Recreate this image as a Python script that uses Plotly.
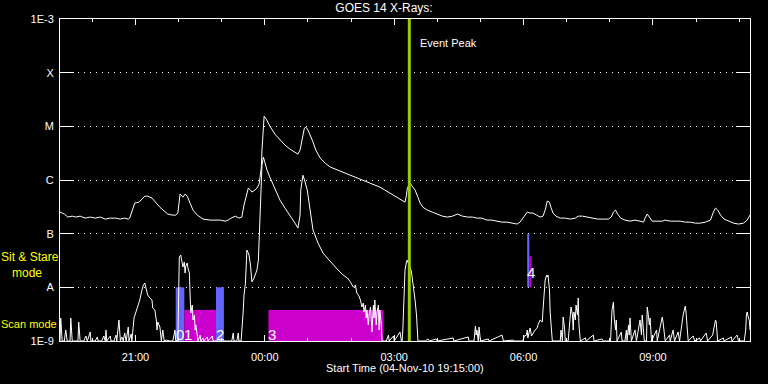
import pandas as pd
import plotly.graph_objects as go

# ---------------- data ----------------
start_time = "2010-11-04 19:15"
end_time = "2010-11-05 11:15"

# GOES 14 long channel (1-8 A), minutes after start / flux W m^-2
long_minutes = [
    0, 6, 11, 17, 22, 28, 35, 42, 49, 56,
    63, 70, 77, 84, 90, 95, 97, 102, 104, 110,
    114, 118, 122, 128, 134, 139, 145, 150, 156, 161,
    164, 166, 167, 170, 171, 174, 177, 181, 185, 191,
    199, 209, 216, 223, 230, 234, 238, 244, 249, 253,
    256, 259, 262, 265, 267, 271, 274, 277, 278, 280,
    281, 283, 284, 287, 292, 299, 306, 313, 320, 327,
    331, 334, 337, 340, 342, 345, 351, 356, 362, 369,
    376, 383, 390, 397, 404, 411, 418, 425, 432, 438,
    445, 452, 459, 466, 473, 480, 482, 483, 486, 487,
    490, 494, 498, 501, 505, 511, 518, 525, 532, 539,
    546, 553, 560, 567, 574, 580, 587, 594, 601, 608,
    615, 622, 629, 636, 640, 644, 647, 650, 654, 658,
    663, 668, 672, 675, 678, 681, 683, 686, 690, 696,
    703, 710, 717, 721, 727, 734, 741, 748, 756, 763,
    767, 770, 773, 775, 780, 786, 793, 800, 807, 812,
    814, 817, 820, 824, 832, 838, 842, 849, 856, 863,
    870, 877, 884, 891, 898, 905, 909, 912, 915, 919,
    924, 930, 937, 944, 951, 956, 959, 960,
]
long_flux = [
    2.52e-7, 2.32e-7, 2.04e-7, 2.12e-7, 2.04e-7, 2.12e-7, 1.95e-7, 2.04e-7, 1.95e-7, 2.04e-7,
    1.87e-7, 1.95e-7, 1.95e-7, 1.87e-7, 1.95e-7, 1.87e-7, 1.95e-7, 3.0e-7, 3.72e-7, 3.87e-7,
    4.41e-7, 5.0e-7, 5.0e-7, 4.6e-7, 3.72e-7, 3.1e-7, 2.64e-7, 2.32e-7, 2.22e-7, 2.22e-7,
    2.42e-7, 4.22e-7, 5.46e-7, 5.0e-7, 4.79e-7, 5.46e-7, 5.0e-7, 3.72e-7, 2.75e-7, 2.22e-7,
    1.87e-7, 1.79e-7, 1.79e-7, 1.79e-7, 1.71e-7, 1.79e-7, 1.95e-7, 2.12e-7, 1.95e-7, 2.04e-7,
    3.41e-7, 5.23e-7, 7.06e-7, 6.49e-7, 5.95e-7, 6.49e-7, 7.06e-7, 8.39e-7, 9.95e-7, 1.67e-6,
    3.6e-6, 1.42e-5, 1.55e-5, 1.36e-5, 1.01e-5, 7.16e-6, 5.53e-6, 4.47e-6, 3.76e-6, 3.31e-6,
    3.04e-6, 3.6e-6, 6.03e-6, 9.26e-6, 9.66e-6, 8.5e-6, 5.53e-6, 3.6e-6, 2.56e-6, 2.06e-6,
    1.74e-6, 1.6e-6, 1.46e-6, 1.34e-6, 1.23e-6, 1.13e-6, 1.04e-6, 9.54e-7, 8.76e-7, 8.04e-7,
    7.38e-7, 6.49e-7, 5.7e-7, 5.0e-7, 4.41e-7, 3.87e-7, 5.23e-7, 6.77e-7, 8.39e-7, 8.76e-7,
    7.7e-7, 6.49e-7, 4.79e-7, 3.72e-7, 3.1e-7, 2.75e-7, 2.52e-7, 2.32e-7, 2.12e-7, 2.04e-7,
    2.12e-7, 2.32e-7, 2.12e-7, 2.04e-7, 2.04e-7, 1.95e-7, 1.95e-7, 1.79e-7, 1.79e-7, 1.71e-7,
    1.64e-7, 1.64e-7, 1.57e-7, 1.51e-7, 1.64e-7, 1.95e-7, 2.32e-7, 2.52e-7, 2.42e-7, 2.42e-7,
    2.22e-7, 2.04e-7, 2.12e-7, 2.75e-7, 4.05e-7, 3.87e-7, 3.1e-7, 2.42e-7, 2.12e-7, 1.95e-7,
    1.95e-7, 1.87e-7, 1.95e-7, 2.12e-7, 2.12e-7, 2.04e-7, 1.95e-7, 1.87e-7, 1.87e-7, 1.87e-7,
    2.04e-7, 2.52e-7, 2.75e-7, 2.42e-7, 1.95e-7, 1.79e-7, 1.71e-7, 1.79e-7, 1.71e-7, 1.64e-7,
    1.95e-7, 2.32e-7, 2.04e-7, 1.71e-7, 1.71e-7, 1.71e-7, 1.79e-7, 1.71e-7, 1.71e-7, 1.71e-7,
    1.64e-7, 1.64e-7, 1.57e-7, 1.57e-7, 1.64e-7, 1.79e-7, 2.52e-7, 3.0e-7, 2.75e-7, 2.22e-7,
    1.87e-7, 1.71e-7, 1.57e-7, 1.51e-7, 1.57e-7, 1.79e-7, 2.12e-7, 2.22e-7,
]

# GOES 14 short channel (0.5-4 A)
short_minutes = [
    0, 1, 3, 6, 8, 10, 14, 15, 17, 21,
    25, 26, 28, 33, 36, 38, 42, 43, 49, 52,
    53, 58, 61, 63, 64, 65, 70, 71, 75, 78,
    79, 82, 84, 86, 88, 90, 92, 95, 96, 99,
    100, 103, 106, 109, 111, 114, 116, 118, 120, 122,
    125, 128, 129, 132, 134, 135, 136, 139, 141, 143,
    145, 148, 153, 157, 160, 161, 164, 166, 168, 170,
    171, 173, 174, 175, 177, 178, 180, 181, 182, 184,
    185, 187, 188, 189, 191, 192, 195, 196, 199, 200,
    205, 206, 212, 213, 220, 231, 239, 241, 242, 246,
    248, 249, 252, 255, 256, 258, 259, 260, 262, 263,
    265, 266, 267, 270, 273, 274, 276, 277, 278, 280,
    281, 283, 285, 288, 292, 299, 306, 313, 320, 327,
    331, 334, 335, 337, 338, 341, 344, 348, 352, 359,
    366, 373, 380, 387, 394, 400, 404, 408, 411, 413,
    416, 418, 420, 422, 423, 425, 426, 427, 429, 430,
    432, 433, 434, 436, 437, 438, 440, 441, 443, 444,
    445, 447, 448, 454, 457, 458, 464, 465, 473, 475,
    476, 477, 479, 480, 482, 483, 484, 486, 487, 489,
    490, 491, 493, 494, 496, 497, 498, 508, 512, 514,
    523, 525, 547, 548, 568, 569, 576, 578, 579, 580,
    582, 583, 585, 596, 597, 615, 617, 631, 632, 644,
    646, 649, 650, 651, 653, 654, 656, 658, 661, 664,
    665, 668, 671, 672, 674, 675, 677, 678, 679, 681,
    682, 684, 685, 696, 697, 699, 700, 702, 703, 707,
    710, 711, 713, 714, 715, 717, 718, 720, 721, 722,
    724, 731, 732, 742, 743, 754, 756, 766, 767, 768,
    770, 771, 773, 774, 775, 781, 782, 786, 788, 789,
    791, 792, 793, 795, 800, 802, 807, 809, 810, 812,
    813, 816, 817, 818, 820, 821, 823, 830, 831, 837,
    838, 839, 841, 842, 848, 849, 853, 855, 860, 862,
    867, 869, 870, 871, 873, 874, 881, 883, 890, 891,
    899, 901, 908, 909, 910, 912, 913, 915, 923, 924,
    934, 935, 942, 944, 952, 954, 955, 956, 958, 959, 960,
]
short_flux = [
    1.0e-9, 2.68e-9, 1.0e-9, 1.0e-9, 1.6e-9, 1.0e-9, 1.0e-9, 2.68e-9, 1.0e-9, 1.0e-9,
    1.0e-9, 2.26e-9, 1.0e-9, 1.0e-9, 1.24e-9, 1.0e-9, 1.47e-9, 1.0e-9, 1.0e-9, 1.19e-9,
    1.0e-9, 1.0e-9, 1.24e-9, 1.0e-9, 1.6e-9, 1.0e-9, 1.24e-9, 1.0e-9, 1.0e-9, 1.29e-9,
    1.0e-9, 2.46e-9, 1.0e-9, 1.19e-9, 1.0e-9, 1.41e-9, 1.0e-9, 1.82e-9, 1.0e-9, 1.35e-9,
    1.0e-9, 2.68e-9, 3.47e-9, 4.49e-9, 5.8e-9, 8.91e-9, 1.1e-8, 1.2e-8, 8.91e-9, 7.19e-9,
    6.32e-9, 5.8e-9, 4.12e-9, 3.78e-9, 2.46e-9, 1.6e-9, 2.26e-9, 1.82e-9, 1.0e-9, 1.6e-9,
    1.0e-9, 1.04e-9, 1.0e-9, 1.0e-9, 1.6e-9, 1.0e-9, 1.04e-9, 3.67e-8, 3.99e-8, 2.96e-8,
    2.39e-8, 2.96e-8, 1.85e-8, 2.49e-8, 2.84e-8, 2.29e-8, 1.85e-8, 7.19e-9, 3.32e-9, 4.68e-9,
    2.46e-9, 3.05e-9, 1.6e-9, 1.99e-9, 1.29e-9, 1.0e-9, 1.29e-9, 1.0e-9, 1.14e-9, 1.0e-9,
    1.19e-9, 1.0e-9, 1.24e-9, 1.0e-9, 1.0e-9, 1.0e-9, 1.0e-9, 1.41e-9, 1.0e-9, 1.0e-9,
    1.41e-9, 1.0e-9, 1.0e-9, 3.78e-9, 7.19e-9, 1.2e-8, 2.6e-8, 4.95e-8, 4.35e-8, 3.99e-8,
    2.6e-8, 1.69e-8, 1.26e-8, 1.49e-8, 1.93e-8, 2.1e-8, 3.22e-8, 7.6e-8, 2.22e-7, 9.95e-7,
    1.89e-6, 2.67e-6, 2.07e-6, 1.53e-6, 1.13e-6, 7.06e-7, 4.22e-7, 3.0e-7, 2.22e-7, 1.57e-7,
    1.27e-7, 2.22e-7, 6.49e-7, 1.13e-6, 1.23e-6, 9.14e-7, 6.49e-7, 2.75e-7, 1.17e-7, 6.68e-8,
    4.35e-8, 3.37e-8, 2.6e-8, 2.1e-8, 1.69e-8, 1.49e-8, 1.26e-8, 1.01e-8, 1.1e-8, 7.83e-9,
    6.89e-9, 5.8e-9, 4.3e-9, 5.1e-9, 3.47e-9, 4.68e-9, 2.68e-9, 3.78e-9, 1.99e-9, 3.05e-9,
    4.3e-9, 2.46e-9, 1.47e-9, 4.68e-9, 2.68e-9, 5.8e-9, 1.99e-9, 3.32e-9, 4.68e-9, 1.6e-9,
    3.78e-9, 1.99e-9, 1.0e-9, 1.0e-9, 1.29e-9, 1.0e-9, 1.24e-9, 1.0e-9, 1.47e-9, 1.0e-9,
    1.0e-9, 1.6e-9, 8.91e-9, 2.1e-8, 2.96e-8, 3.22e-8, 2.96e-8, 2.6e-8, 2.39e-8, 1.93e-8,
    1.49e-8, 1.2e-8, 8.91e-9, 5.8e-9, 3.05e-9, 1.99e-9, 1.0e-9, 1.0e-9, 1.09e-9, 1.0e-9,
    1.09e-9, 1.0e-9, 1.14e-9, 1.0e-9, 1.19e-9, 1.0e-9, 1.0e-9, 1.9e-9, 1.29e-9, 1.6e-9,
    1.0e-9, 1.82e-9, 1.0e-9, 1.09e-9, 1.0e-9, 1.29e-9, 1.0e-9, 1.04e-9, 1.0e-9, 1.0e-9,
    1.24e-9, 1.29e-9, 1.6e-9, 1.14e-9, 1.41e-9, 1.75e-9, 1.24e-9, 1.41e-9, 1.6e-9, 1.75e-9,
    1.99e-9, 2.46e-9, 2.26e-9, 3.78e-9, 7.19e-9, 1.37e-8, 1.69e-8, 1.56e-8, 1.69e-8, 8.91e-9,
    3.32e-9, 1.6e-9, 1.0e-9, 1.0e-9, 1.6e-9, 1.0e-9, 2.8e-9, 1.75e-9, 1.0e-9, 1.0e-9,
    3.78e-9, 4.3e-9, 3.05e-9, 1.6e-9, 3.47e-9, 2.46e-9, 4.68e-9, 3.05e-9, 6.32e-9, 1.99e-9,
    1.0e-9, 1.14e-9, 1.0e-9, 1.29e-9, 1.0e-9, 1.09e-9, 1.0e-9, 1.0e-9, 1.99e-9, 3.78e-9,
    5.32e-9, 2.68e-9, 1.6e-9, 2.46e-9, 1.0e-9, 1.47e-9, 1.0e-9, 1.0e-9, 1.6e-9, 1.0e-9,
    1.99e-9, 1.29e-9, 2.68e-9, 1.0e-9, 1.6e-9, 1.0e-9, 2.46e-9, 1.29e-9, 3.05e-9, 1.6e-9,
    1.0e-9, 1.0e-9, 4.3e-9, 3.47e-9, 1.99e-9, 2.68e-9, 1.0e-9, 1.6e-9, 1.0e-9, 2.46e-9,
    2.8e-9, 2.26e-9, 1.47e-9, 1.0e-9, 1.29e-9, 1.0e-9, 1.6e-9, 1.0e-9, 1.47e-9, 1.0e-9,
    3.05e-9, 3.78e-9, 4.49e-9, 3.47e-9, 1.6e-9, 1.0e-9, 1.24e-9, 1.0e-9, 1.14e-9, 1.0e-9,
    1.41e-9, 1.0e-9, 1.29e-9, 1.6e-9, 1.99e-9, 2.46e-9, 2.26e-9, 1.0e-9, 1.14e-9, 1.0e-9,
    1.19e-9, 1.0e-9, 1.29e-9, 1.0e-9, 1.0e-9, 1.6e-9, 3.05e-9, 3.47e-9, 2.68e-9, 2.46e-9, 1.6e-9,
]

# Flare class axis labels
y_tick_values = [1e-9, 1e-8, 1e-7, 1e-6, 1e-5, 1e-4, 1e-3]
y_tick_labels = ["1E-9", "A", "B", "C", "M", "X", "1E-3"]

# Observation windows (Sit & Stare / Scan)
obs_start = ["2010-11-04 21:56", "2010-11-04 22:08", "2010-11-04 22:52",
             "2010-11-05 00:05", "2010-11-05 06:05", "2010-11-05 06:08"]
obs_end = ["2010-11-04 22:08", "2010-11-04 22:52", "2010-11-04 23:03",
           "2010-11-05 02:45", "2010-11-05 06:08", "2010-11-05 06:11"]
obs_low = [1e-9, 1e-9, 1e-9, 1e-9, 1e-8, 1e-8]
obs_high = [1e-8, 3.8e-9, 1e-8, 3.8e-9, 1e-7, 3.8e-8]
obs_mode = ["sit", "scan", "sit", "scan", "sit", "scan"]
obs_label = ["0", "1", "2", "3", "4", ""]

event_peak = "2010-11-05 03:21"

assert len(long_minutes) == len(long_flux)
assert len(short_minutes) == len(short_flux)

# ---------------- figure ----------------
t0 = pd.Timestamp(start_time)
long_t = [t0 + pd.Timedelta(minutes=m) for m in long_minutes]
short_t = [t0 + pd.Timedelta(minutes=m) for m in short_minutes]

mode_color = {"sit": "#6464ff", "scan": "#cc00cc"}

fig = go.Figure()

for s, e, lo, hi, md in zip(obs_start, obs_end, obs_low, obs_high, obs_mode):
    fig.add_trace(go.Scatter(
        x=[s, e, e, s, s], y=[lo, lo, hi, hi, lo],
        mode="lines", fill="toself", fillcolor=mode_color[md],
        line=dict(width=0, color=mode_color[md]),
        hoverinfo="skip", showlegend=False))

fig.add_trace(go.Scatter(x=long_t, y=long_flux, mode="lines",
                         line=dict(color="white", width=1), showlegend=False))
fig.add_trace(go.Scatter(x=short_t, y=short_flux, mode="lines",
                         line=dict(color="white", width=1), showlegend=False))

fig.add_trace(go.Scatter(x=[event_peak, event_peak], y=[y_tick_values[0], y_tick_values[-1]],
                         mode="lines", line=dict(color="#99cc00", width=3),
                         showlegend=False, hoverinfo="skip"))

W, H = 768, 384
L, R, T, B = 60, 18, 19, 43
pw, ph = W - L - R, H - T - B

def px(xp):
    return (xp - L) / pw

def py(yp):
    return (H - B - yp) / ph

annotations = []
for s, lab, md, lo in zip(obs_start, obs_label, obs_mode, obs_low):
    if not lab:
        continue
    annotations.append(dict(
        x=s, xref="x", y=py(334) if lo <= 1e-9 else py(272), yref="paper",
        text=lab, showarrow=False, xanchor="left", yanchor="middle",
        font=dict(size=15, color="white"), xshift=-1, borderpad=0))

annotations += [
    dict(x=px(418), y=py(43), xref="paper", yref="paper", text="Event Peak",
         showarrow=False, xanchor="left", yanchor="middle",
         font=dict(size=11, color="white")),
    dict(x=px(0), y=py(257), xref="paper", yref="paper", text="Sit &amp; Stare",
         showarrow=False, xanchor="left", yanchor="middle", borderpad=0,
         font=dict(size=12, color="#ffff00")),
    dict(x=px(11), y=py(272.5), xref="paper", yref="paper", text="mode",
         showarrow=False, xanchor="left", yanchor="middle", borderpad=0,
         font=dict(size=12, color="#ffff00")),
    dict(x=px(0), y=py(323.5), xref="paper", yref="paper", text="Scan mode",
         showarrow=False, xanchor="left", yanchor="middle", borderpad=0,
         font=dict(size=11, color="#ffff00")),
    dict(x=0.5, y=py(368), xref="paper", yref="paper",
         text="Start Time (04-Nov-10 19:15:00)",
         showarrow=False, xanchor="center", yanchor="middle",
         font=dict(size=11, color="white")),
]

fig.update_layout(
    width=W, height=H,
    margin=dict(l=L, r=R, t=T, b=B, pad=0),
    paper_bgcolor="black", plot_bgcolor="black",
    font=dict(family="Liberation Sans, Arial, sans-serif", size=11, color="white"),
    title=dict(text="GOES 14 X-Rays:", x=0.5, xanchor="center",
               y=1 - 8 / H, yanchor="middle", yref="container",
               font=dict(size=12, color="white")),
    showlegend=False,
    annotations=annotations,
    xaxis=dict(
        type="date", range=[start_time, end_time],
        tickformat="%H:%M", tick0="2010-11-04 21:00", dtick=3 * 3600 * 1000,
        ticks="inside", ticklen=6, tickwidth=1, tickcolor="white",
        showline=True, linecolor="white", linewidth=1, mirror="ticks",
        showgrid=False, zeroline=False, ticklabelstandoff=6,
        tickfont=dict(size=11, color="white"),
        minor=dict(tick0="2010-11-04 21:00", dtick=3600 * 1000, ticks="inside",
                   ticklen=3, tickwidth=1, tickcolor="white", showgrid=False),
    ),
    yaxis=dict(
        type="log", range=[-9, -3],
        tickvals=y_tick_values, ticktext=y_tick_labels,
        ticks="inside", ticklen=14, tickwidth=1, tickcolor="white",
        showline=True, linecolor="white", linewidth=1, mirror="ticks",
        showgrid=True, gridcolor="white", gridwidth=1, griddash="1px,5px",
        zeroline=False, ticklabelstandoff=3,
        tickfont=dict(size=11, color="white"),
    ),
)

fig.write_html(
    "out.html",
    config={"displayModeBar": False},
    post_script="document.body.style.margin='0';document.body.style.background='black';",
)
